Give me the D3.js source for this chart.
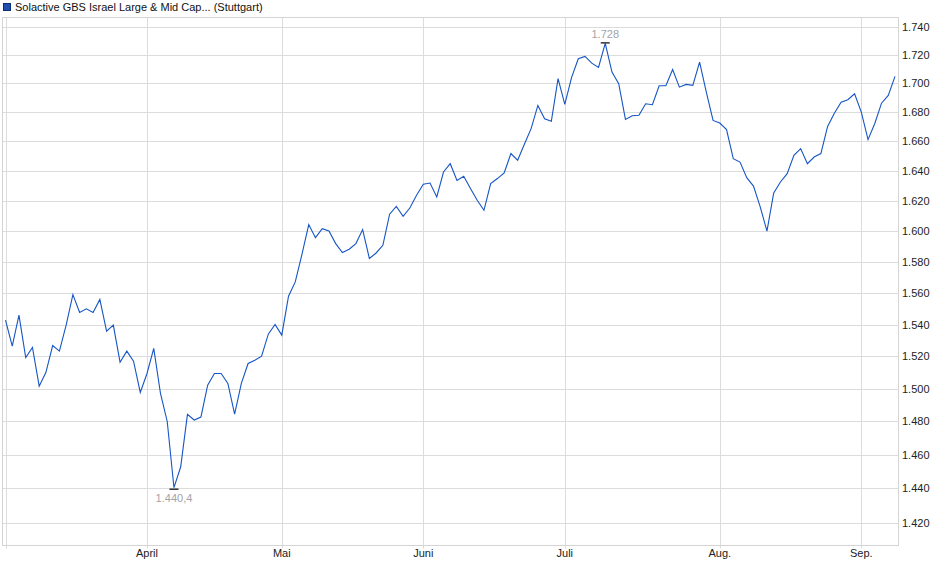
<!DOCTYPE html>
<html>
<head>
<meta charset="utf-8">
<script src="https://cdn.jsdelivr.net/npm/d3@7"></script>
<style>
  body { margin: 0; background: #fff; }
  text { font-family: "Liberation Sans", Arial, sans-serif; }
</style>
</head>
<body>
<div id="chart"></div>
<script>
// index closes, one per trading day (3 Mar .. 8 Sep)
var closes = [
  1542.7, 1526.4, 1545.9, 1519.3, 1525.6, 1501.6, 1510.1, 1526.8, 1523.3, 1539.6,
  1559.0, 1547.6, 1549.9, 1547.6, 1555.9, 1535.8, 1539.6, 1516.4, 1523.3, 1517.0,
  1497.7, 1509.4, 1525.0, 1497.1, 1480.0, 1440.4, 1452.8, 1484.3, 1480.9, 1482.7,
  1502.2, 1509.4, 1509.4, 1503.3, 1484.5, 1503.3, 1515.6, 1517.6, 1520.1, 1533.9,
  1540.0, 1533.3, 1558.0, 1567.1, 1585.0, 1604.4, 1595.8, 1601.7, 1600.1, 1591.9,
  1586.1, 1588.2, 1591.9, 1601.1, 1582.2, 1585.8, 1590.8, 1611.2, 1616.4, 1609.8,
  1615.3, 1623.7, 1631.1, 1631.9, 1622.6, 1639.3, 1644.9, 1633.7, 1636.4, 1628.2,
  1620.4, 1613.8, 1631.5, 1634.9, 1638.6, 1651.7, 1647.2, 1658.0, 1668.7, 1684.6,
  1675.5, 1673.7, 1703.2, 1685.3, 1703.9, 1717.2, 1718.8, 1714.1, 1711.1, 1728.0,
  1707.8, 1699.7, 1675.0, 1677.5, 1677.8, 1685.8, 1685.1, 1698.3, 1698.3, 1709.6,
  1697.3, 1699.2, 1698.5, 1714.8, 1693.8, 1674.3, 1672.5, 1668.0, 1648.3, 1646.0,
  1635.5, 1629.9, 1616.0, 1600.1, 1625.3, 1632.6, 1638.2, 1650.5, 1655.1, 1644.9,
  1649.4, 1651.7, 1670.2, 1679.3, 1686.9, 1688.6, 1692.7, 1680.0, 1661.2, 1672.2,
  1686.2, 1691.6, 1704.8
];

// first trading day of each month (index into closes) and its label
var monthIdx = [0, 21, 41, 62, 83, 106, 127];
var monthLabels = ["", "April", "Mai", "Juni", "Juli", "Aug.", "Sep."];

var yTicks = [1420, 1440, 1460, 1480, 1500, 1520, 1540, 1560, 1580, 1600,
              1620, 1640, 1660, 1680, 1700, 1720, 1740];

var title = "Solactive GBS Israel Large & Mid Cap... (Stuttgart)";

var width = 940, height = 579;
var frame = { left: 2.5, right: 898.5, top: 17.5, bottom: 545.5 };

var de = d3.formatLocale({ decimal: ",", thousands: ".", grouping: [3], currency: ["", " €"] });
var fmtTick = de.format(",.0f");
var fmtMin = de.format(",.1f");

var svg = d3.select("#chart").append("svg")
  .attr("width", width)
  .attr("height", height);

var x = d3.scaleLinear()
  .domain([0, closes.length - 1])
  .range([5.5, 895]);

// log price axis
var y = d3.scaleLog()
  .domain([1420, 1740])
  .range([522.5, 26.5]);

// grid
svg.append("g")
  .selectAll("line")
  .data(yTicks)
  .enter()
  .append("line")
  .attr("x1", frame.left)
  .attr("x2", frame.right)
  .attr("y1", (d) => Math.round(y(d)) + 0.5)
  .attr("y2", (d) => Math.round(y(d)) + 0.5)
  .attr("stroke", "#dcdcdc");

svg.append("g")
  .selectAll("line")
  .data(monthIdx)
  .enter()
  .append("line")
  .attr("x1", (d) => Math.round(x(d)) + 0.5)
  .attr("x2", (d) => Math.round(x(d)) + 0.5)
  .attr("y1", frame.top)
  .attr("y2", frame.bottom + 3)
  .attr("stroke", "#dcdcdc");

// frame
svg.append("rect")
  .attr("x", frame.left)
  .attr("y", frame.top)
  .attr("width", frame.right - frame.left)
  .attr("height", frame.bottom - frame.top)
  .attr("fill", "none")
  .attr("stroke", "#d4d4d4");

// y labels on the right
svg.append("g")
  .selectAll("text")
  .data(yTicks)
  .enter()
  .append("text")
  .attr("x", 902)
  .attr("y", (d) => y(d) + 4)
  .attr("font-size", 11)
  .attr("fill", "#222")
  .text((d) => fmtTick(d));

// month labels
svg.append("g")
  .selectAll("text")
  .data(monthIdx)
  .enter()
  .append("text")
  .attr("x", (d) => x(d))
  .attr("y", 557)
  .attr("text-anchor", "middle")
  .attr("font-size", 11)
  .attr("fill", "#222")
  .text((d, i) => monthLabels[i]);

// price line
var line = d3.line()
  .x((d, i) => x(i))
  .y((d) => y(d));

svg.append("path")
  .datum(closes)
  .attr("d", line)
  .attr("fill", "none")
  .attr("stroke", "#1655c4")
  .attr("stroke-width", 1.1);

// high / low markers
var hiIdx = d3.maxIndex(closes);
var loIdx = d3.minIndex(closes);

function marker(i, above) {
  var cx = x(i), cy = y(closes[i]);
  svg.append("line")
    .attr("x1", cx - 4.5)
    .attr("x2", cx + 4.5)
    .attr("y1", cy + (above ? -0.5 : 1.5))
    .attr("y2", cy + (above ? -0.5 : 1.5))
    .attr("stroke", "#000")
    .attr("stroke-width", 1.2);
  svg.append("text")
    .attr("x", cx)
    .attr("y", above ? cy - 5 : cy + 14.5)
    .attr("text-anchor", "middle")
    .attr("font-size", 11)
    .attr("fill", "#a3a3a8")
    .text(above ? fmtTick(closes[i]) : fmtMin(closes[i]));
}
marker(hiIdx, true);
marker(loIdx, false);

// legend
svg.append("rect")
  .attr("x", 3.5)
  .attr("y", 3.5)
  .attr("width", 7)
  .attr("height", 7)
  .attr("fill", "#1f50b0")
  .attr("stroke", "#0d2d70");

svg.append("text")
  .attr("x", 15)
  .attr("y", 11)
  .attr("font-size", 11)
  .attr("fill", "#111")
  .text(title);
</script>
</body>
</html>
